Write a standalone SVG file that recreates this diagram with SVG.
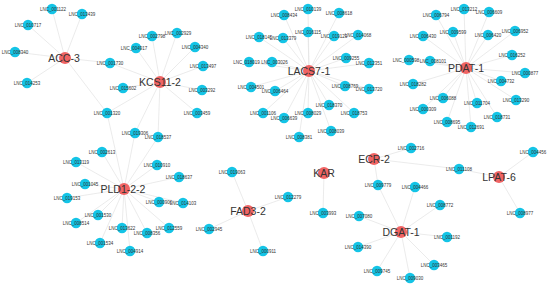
<svg xmlns="http://www.w3.org/2000/svg" width="550" height="288" viewBox="0 0 550 288">
<style>
.e line{stroke:#e2e2e2;stroke-width:0.7}
.l circle{fill:#14c4e6}
.h circle{fill:#f06464}
text{font-family:"Liberation Sans",Arial,sans-serif;text-anchor:middle;fill:#333}
.l text{font-size:4.5px}
.h text{font-size:10.5px}
</style>
<rect width="550" height="288" fill="#fff"/>
<g id="connectors" class="e">
<line x1="65" y1="58" x2="52" y2="9"/><line x1="65" y1="58" x2="82" y2="14"/><line x1="65" y1="58" x2="28" y2="25"/><line x1="65" y1="58" x2="15" y2="52"/><line x1="65" y1="58" x2="110" y2="63"/><line x1="65" y1="58" x2="27" y2="83"/><line x1="65" y1="58" x2="107" y2="113"/>
<line x1="160" y1="82" x2="152" y2="36"/><line x1="160" y1="82" x2="177" y2="33"/><line x1="160" y1="82" x2="136" y2="48"/><line x1="160" y1="82" x2="195" y2="47"/><line x1="160" y1="82" x2="203" y2="66"/><line x1="160" y1="82" x2="202" y2="90"/><line x1="160" y1="82" x2="110" y2="63"/><line x1="160" y1="82" x2="123" y2="88"/><line x1="160" y1="82" x2="197" y2="113"/><line x1="160" y1="82" x2="135" y2="133"/><line x1="160" y1="82" x2="158" y2="137"/><line x1="160" y1="82" x2="107" y2="113"/>
<line x1="124" y1="189" x2="107" y2="113"/><line x1="124" y1="189" x2="135" y2="133"/><line x1="124" y1="189" x2="102" y2="152"/><line x1="124" y1="189" x2="76" y2="162"/><line x1="124" y1="189" x2="85" y2="184"/><line x1="124" y1="189" x2="67" y2="198"/><line x1="124" y1="189" x2="98" y2="215"/><line x1="124" y1="189" x2="76" y2="223"/><line x1="124" y1="189" x2="122" y2="228"/><line x1="124" y1="189" x2="100" y2="243"/><line x1="124" y1="189" x2="130" y2="251"/><line x1="124" y1="189" x2="147" y2="233"/><line x1="124" y1="189" x2="169" y2="228"/><line x1="124" y1="189" x2="159" y2="202"/><line x1="124" y1="189" x2="183" y2="203"/><line x1="124" y1="189" x2="157" y2="165"/><line x1="124" y1="189" x2="179" y2="177"/><line x1="124" y1="189" x2="158" y2="137"/>
<line x1="309" y1="71" x2="308" y2="9"/><line x1="309" y1="71" x2="284" y2="15"/><line x1="309" y1="71" x2="339" y2="13"/><line x1="309" y1="71" x2="308" y2="32"/><line x1="309" y1="71" x2="283" y2="38"/><line x1="309" y1="71" x2="334" y2="36"/><line x1="309" y1="71" x2="358" y2="35"/><line x1="309" y1="71" x2="259" y2="37"/><line x1="309" y1="71" x2="249" y2="62"/><line x1="309" y1="71" x2="272" y2="62"/><line x1="309" y1="71" x2="346" y2="58"/><line x1="309" y1="71" x2="369" y2="63"/><line x1="309" y1="71" x2="251" y2="87"/><line x1="309" y1="71" x2="275" y2="91"/><line x1="309" y1="71" x2="345" y2="86"/><line x1="309" y1="71" x2="369" y2="89"/><line x1="309" y1="71" x2="329" y2="105"/><line x1="309" y1="71" x2="308" y2="113"/><line x1="309" y1="71" x2="354" y2="113"/><line x1="309" y1="71" x2="284" y2="118"/><line x1="309" y1="71" x2="331" y2="131"/><line x1="309" y1="71" x2="299" y2="137"/><line x1="309" y1="71" x2="263" y2="113"/>
<line x1="466" y1="68" x2="464" y2="9"/><line x1="466" y1="68" x2="436" y2="15"/><line x1="466" y1="68" x2="489" y2="12"/><line x1="466" y1="68" x2="423" y2="36"/><line x1="466" y1="68" x2="453" y2="32"/><line x1="466" y1="68" x2="488" y2="35"/><line x1="466" y1="68" x2="515" y2="31"/><line x1="466" y1="68" x2="512" y2="55"/><line x1="466" y1="68" x2="430" y2="61"/><line x1="466" y1="68" x2="409" y2="60"/><line x1="466" y1="68" x2="525" y2="73"/><line x1="466" y1="68" x2="501" y2="81"/><line x1="466" y1="68" x2="413" y2="84"/><line x1="466" y1="68" x2="443" y2="98"/><line x1="466" y1="68" x2="477" y2="103"/><line x1="466" y1="68" x2="516" y2="100"/><line x1="466" y1="68" x2="423" y2="109"/><line x1="466" y1="68" x2="447" y2="122"/><line x1="466" y1="68" x2="471" y2="127"/><line x1="466" y1="68" x2="497" y2="117"/>
<line x1="374" y1="159" x2="411" y2="148"/><line x1="374" y1="159" x2="378" y2="185"/><line x1="374" y1="159" x2="459" y2="169"/>
<line x1="324" y1="173" x2="323" y2="213"/>
<line x1="248" y1="211" x2="232" y2="172"/><line x1="248" y1="211" x2="288" y2="197"/><line x1="248" y1="211" x2="209" y2="229"/><line x1="248" y1="211" x2="263" y2="251"/>
<line x1="401" y1="232" x2="415" y2="187"/><line x1="401" y1="232" x2="378" y2="185"/><line x1="401" y1="232" x2="359" y2="216"/><line x1="401" y1="232" x2="358" y2="247"/><line x1="401" y1="232" x2="377" y2="271"/><line x1="401" y1="232" x2="410" y2="278"/><line x1="401" y1="232" x2="434" y2="265"/><line x1="401" y1="232" x2="447" y2="237"/><line x1="401" y1="232" x2="440" y2="205"/>
<line x1="499" y1="177" x2="533" y2="152"/><line x1="499" y1="177" x2="459" y2="169"/><line x1="499" y1="177" x2="520" y2="213"/>
</g>
<g id="nodes">
<g id="LNC_001122" class="l"><circle cx="52" cy="9" r="5.2"/><text x="53" y="10.6">LNC_001122</text></g>
<g id="LNC_013439" class="l"><circle cx="82" cy="14" r="5.2"/><text x="82" y="15.6">LNC_013439</text></g>
<g id="LNC_010717" class="l"><circle cx="28" cy="25" r="5.2"/><text x="28" y="26.6">LNC_010717</text></g>
<g id="LNC_008340" class="l"><circle cx="15" cy="52" r="5.2"/><text x="15" y="53.6">LNC_008340</text></g>
<g id="LNC_001730" class="l"><circle cx="110" cy="63" r="5.2"/><text x="110" y="64.6">LNC_001730</text></g>
<g id="LNC_014253" class="l"><circle cx="27" cy="83" r="5.2"/><text x="27" y="84.6">LNC_014253</text></g>
<g id="LNC_001320" class="l"><circle cx="107" cy="113" r="5.2"/><text x="107" y="114.6">LNC_001320</text></g>
<g id="LNC_002798" class="l"><circle cx="152" cy="36" r="5.2"/><text x="152" y="37.6">LNC_002798</text></g>
<g id="LNC_002929" class="l"><circle cx="177" cy="33" r="5.2"/><text x="178" y="34.6">LNC_002929</text></g>
<g id="LNC_004917" class="l"><circle cx="136" cy="48" r="5.2"/><text x="134" y="49.6">LNC_004917</text></g>
<g id="LNC_004340" class="l"><circle cx="195" cy="47" r="5.2"/><text x="195" y="48.6">LNC_004340</text></g>
<g id="LNC_013497" class="l"><circle cx="203" cy="66" r="5.2"/><text x="203" y="67.6">LNC_013497</text></g>
<g id="LNC_003292" class="l"><circle cx="202" cy="90" r="5.2"/><text x="202" y="91.6">LNC_003292</text></g>
<g id="LNC_015602" class="l"><circle cx="123" cy="88" r="5.2"/><text x="123" y="89.6">LNC_015602</text></g>
<g id="LNC_003459" class="l"><circle cx="197" cy="113" r="5.2"/><text x="197" y="114.6">LNC_003459</text></g>
<g id="LNC_019306" class="l"><circle cx="135" cy="133" r="5.2"/><text x="135" y="134.6">LNC_019306</text></g>
<g id="LNC_018537" class="l"><circle cx="158" cy="137" r="5.2"/><text x="158" y="138.6">LNC_018537</text></g>
<g id="LNC_002613" class="l"><circle cx="102" cy="152" r="5.2"/><text x="102" y="153.6">LNC_002613</text></g>
<g id="LNC_013119" class="l"><circle cx="76" cy="162" r="5.2"/><text x="76" y="163.6">LNC_013119</text></g>
<g id="LNC_001045" class="l"><circle cx="85" cy="184" r="5.2"/><text x="85" y="185.6">LNC_001045</text></g>
<g id="LNC_019153" class="l"><circle cx="67" cy="198" r="5.2"/><text x="67" y="199.6">LNC_019153</text></g>
<g id="LNC_001530" class="l"><circle cx="98" cy="215" r="5.2"/><text x="98" y="216.6">LNC_001530</text></g>
<g id="LNC_008514" class="l"><circle cx="76" cy="223" r="5.2"/><text x="76" y="224.6">LNC_008514</text></g>
<g id="LNC_013622" class="l"><circle cx="122" cy="228" r="5.2"/><text x="122" y="229.6">LNC_013622</text></g>
<g id="LNC_001534" class="l"><circle cx="100" cy="243" r="5.2"/><text x="100" y="244.6">LNC_001534</text></g>
<g id="LNC_004914" class="l"><circle cx="130" cy="251" r="5.2"/><text x="130" y="252.6">LNC_004914</text></g>
<g id="LNC_008356" class="l"><circle cx="147" cy="233" r="5.2"/><text x="147" y="234.6">LNC_008356</text></g>
<g id="LNC_012559" class="l"><circle cx="169" cy="228" r="5.2"/><text x="169" y="229.6">LNC_012559</text></g>
<g id="LNC_000906" class="l"><circle cx="159" cy="202" r="5.2"/><text x="159" y="203.6">LNC_000906</text></g>
<g id="LNC_014103" class="l"><circle cx="183" cy="203" r="5.2"/><text x="183" y="204.6">LNC_014103</text></g>
<g id="LNC_010910" class="l"><circle cx="157" cy="165" r="5.2"/><text x="157" y="166.6">LNC_010910</text></g>
<g id="LNC_018637" class="l"><circle cx="179" cy="177" r="5.2"/><text x="179" y="178.6">LNC_018637</text></g>
<g id="LNC_010139" class="l"><circle cx="308" cy="9" r="5.2"/><text x="308" y="10.6">LNC_010139</text></g>
<g id="LNC_008434" class="l"><circle cx="284" cy="15" r="5.2"/><text x="284" y="16.6">LNC_008434</text></g>
<g id="LNC_008618" class="l"><circle cx="339" cy="13" r="5.2"/><text x="339" y="14.6">LNC_008618</text></g>
<g id="LNC_016115" class="l"><circle cx="308" cy="32" r="5.2"/><text x="308" y="33.6">LNC_016115</text></g>
<g id="LNC_013379" class="l"><circle cx="283" cy="38" r="5.2"/><text x="283" y="39.6">LNC_013379</text></g>
<g id="LNC_019123" class="l"><circle cx="334" cy="36" r="5.2"/><text x="334" y="37.6">LNC_019123</text></g>
<g id="LNC_014068" class="l"><circle cx="358" cy="35" r="5.2"/><text x="358" y="36.6">LNC_014068</text></g>
<g id="LNC_018145" class="l"><circle cx="259" cy="37" r="5.2"/><text x="259" y="38.6">LNC_018145</text></g>
<g id="LNC_018019" class="l"><circle cx="249" cy="62" r="5.2"/><text x="246.5" y="63.6">LNC_018019</text></g>
<g id="LNC_003026" class="l"><circle cx="272" cy="62" r="5.2"/><text x="274.5" y="63.6">LNC_003026</text></g>
<g id="LNC_009255" class="l"><circle cx="346" cy="58" r="5.2"/><text x="346" y="59.6">LNC_009255</text></g>
<g id="LNC_012351" class="l"><circle cx="369" cy="63" r="5.2"/><text x="369" y="64.6">LNC_012351</text></g>
<g id="LNC_004501" class="l"><circle cx="251" cy="87" r="5.2"/><text x="251" y="88.6">LNC_004501</text></g>
<g id="LNC_006464" class="l"><circle cx="275" cy="91" r="5.2"/><text x="275" y="92.6">LNC_006464</text></g>
<g id="LNC_008769" class="l"><circle cx="345" cy="86" r="5.2"/><text x="345" y="87.6">LNC_008769</text></g>
<g id="LNC_013720" class="l"><circle cx="369" cy="89" r="5.2"/><text x="369" y="90.6">LNC_013720</text></g>
<g id="LNC_018370" class="l"><circle cx="329" cy="105" r="5.2"/><text x="329" y="106.6">LNC_018370</text></g>
<g id="LNC_008029" class="l"><circle cx="308" cy="113" r="5.2"/><text x="308" y="114.6">LNC_008029</text></g>
<g id="LNC_018753" class="l"><circle cx="354" cy="113" r="5.2"/><text x="354" y="114.6">LNC_018753</text></g>
<g id="LNC_006639" class="l"><circle cx="284" cy="118" r="5.2"/><text x="284" y="119.6">LNC_006639</text></g>
<g id="LNC_008039" class="l"><circle cx="331" cy="131" r="5.2"/><text x="331" y="132.6">LNC_008039</text></g>
<g id="LNC_008381" class="l"><circle cx="299" cy="137" r="5.2"/><text x="299" y="138.6">LNC_008381</text></g>
<g id="LNC_001106" class="l"><circle cx="263" cy="113" r="5.2"/><text x="263" y="114.6">LNC_001106</text></g>
<g id="LNC_013212" class="l"><circle cx="464" cy="9" r="5.2"/><text x="464" y="10.6">LNC_013212</text></g>
<g id="LNC_006794" class="l"><circle cx="436" cy="15" r="5.2"/><text x="436" y="16.6">LNC_006794</text></g>
<g id="LNC_006609" class="l"><circle cx="489" cy="12" r="5.2"/><text x="489" y="13.6">LNC_006609</text></g>
<g id="LNC_006430" class="l"><circle cx="423" cy="36" r="5.2"/><text x="423" y="37.6">LNC_006430</text></g>
<g id="LNC_009599" class="l"><circle cx="453" cy="32" r="5.2"/><text x="453" y="33.6">LNC_009599</text></g>
<g id="LNC_006420" class="l"><circle cx="488" cy="35" r="5.2"/><text x="488" y="36.6">LNC_006420</text></g>
<g id="LNC_006952" class="l"><circle cx="515" cy="31" r="5.2"/><text x="515" y="32.6">LNC_006952</text></g>
<g id="LNC_016252" class="l"><circle cx="512" cy="55" r="5.2"/><text x="512" y="56.6">LNC_016252</text></g>
<g id="LNC_008101" class="l"><circle cx="430" cy="61" r="5.2"/><text x="433" y="62.6">LNC_008101</text></g>
<g id="LNC_000598" class="l"><circle cx="409" cy="60" r="5.2"/><text x="406" y="61.6">LNC_000598</text></g>
<g id="LNC_000877" class="l"><circle cx="525" cy="73" r="5.2"/><text x="525" y="74.6">LNC_000877</text></g>
<g id="LNC_004732" class="l"><circle cx="501" cy="81" r="5.2"/><text x="501" y="82.6">LNC_004732</text></g>
<g id="LNC_018282" class="l"><circle cx="413" cy="84" r="5.2"/><text x="413" y="85.6">LNC_018282</text></g>
<g id="LNC_006088" class="l"><circle cx="443" cy="98" r="5.2"/><text x="443" y="99.6">LNC_006088</text></g>
<g id="LNC_011704" class="l"><circle cx="477" cy="103" r="5.2"/><text x="477" y="104.6">LNC_011704</text></g>
<g id="LNC_013290" class="l"><circle cx="516" cy="100" r="5.2"/><text x="516" y="101.6">LNC_013290</text></g>
<g id="LNC_000309" class="l"><circle cx="423" cy="109" r="5.2"/><text x="423" y="110.6">LNC_000309</text></g>
<g id="LNC_008695" class="l"><circle cx="447" cy="122" r="5.2"/><text x="447" y="123.6">LNC_008695</text></g>
<g id="LNC_012691" class="l"><circle cx="471" cy="127" r="5.2"/><text x="471" y="128.6">LNC_012691</text></g>
<g id="LNC_018731" class="l"><circle cx="497" cy="117" r="5.2"/><text x="497" y="118.6">LNC_018731</text></g>
<g id="LNC_002716" class="l"><circle cx="411" cy="148" r="5.2"/><text x="411" y="149.6">LNC_002716</text></g>
<g id="LNC_009779" class="l"><circle cx="378" cy="185" r="5.2"/><text x="378" y="186.6">LNC_009779</text></g>
<g id="LNC_011108" class="l"><circle cx="459" cy="169" r="5.2"/><text x="459" y="170.6">LNC_011108</text></g>
<g id="LNC_003993" class="l"><circle cx="323" cy="213" r="5.2"/><text x="323" y="214.6">LNC_003993</text></g>
<g id="LNC_019063" class="l"><circle cx="232" cy="172" r="5.2"/><text x="232" y="173.6">LNC_019063</text></g>
<g id="LNC_012279" class="l"><circle cx="288" cy="197" r="5.2"/><text x="288" y="198.6">LNC_012279</text></g>
<g id="LNC_002945" class="l"><circle cx="209" cy="229" r="5.2"/><text x="209" y="230.6">LNC_002945</text></g>
<g id="LNC_000911" class="l"><circle cx="263" cy="251" r="5.2"/><text x="263" y="252.6">LNC_000911</text></g>
<g id="LNC_004466" class="l"><circle cx="415" cy="187" r="5.2"/><text x="415" y="188.6">LNC_004466</text></g>
<g id="LNC_007080" class="l"><circle cx="359" cy="216" r="5.2"/><text x="359" y="217.6">LNC_007080</text></g>
<g id="LNC_014390" class="l"><circle cx="358" cy="247" r="5.2"/><text x="358" y="248.6">LNC_014390</text></g>
<g id="LNC_009745" class="l"><circle cx="377" cy="271" r="5.2"/><text x="377" y="272.6">LNC_009745</text></g>
<g id="LNC_009030" class="l"><circle cx="410" cy="278" r="5.2"/><text x="410" y="279.6">LNC_009030</text></g>
<g id="LNC_003465" class="l"><circle cx="434" cy="265" r="5.2"/><text x="434" y="266.6">LNC_003465</text></g>
<g id="LNC_001192" class="l"><circle cx="447" cy="237" r="5.2"/><text x="447" y="238.6">LNC_001192</text></g>
<g id="LNC_008772" class="l"><circle cx="440" cy="205" r="5.2"/><text x="440" y="206.6">LNC_008772</text></g>
<g id="LNC_004456" class="l"><circle cx="533" cy="152" r="5.2"/><text x="533" y="153.6">LNC_004456</text></g>
<g id="LNC_008977" class="l"><circle cx="520" cy="213" r="5.2"/><text x="520" y="214.6">LNC_008977</text></g>
<g id="ACC-3" class="h"><circle cx="65" cy="58" r="6"/><text x="64" y="61.8">ACC-3</text></g>
<g id="KCS11-2" class="h"><circle cx="160" cy="82" r="6"/><text x="160" y="85.8">KCS11-2</text></g>
<g id="PLD1-2-2" class="h"><circle cx="124" cy="189" r="6"/><text x="123" y="192.8">PLD1-2-2</text></g>
<g id="LACS7-1" class="h"><circle cx="309" cy="71" r="6"/><text x="309" y="74.8">LACS7-1</text></g>
<g id="PDAT-1" class="h"><circle cx="466" cy="68" r="6"/><text x="466" y="71.8">PDAT-1</text></g>
<g id="ECR-2" class="h"><circle cx="374" cy="159" r="6"/><text x="374" y="162.8">ECR-2</text></g>
<g id="KAR" class="h"><circle cx="324" cy="173" r="6"/><text x="324" y="176.8">KAR</text></g>
<g id="FAD3-2" class="h"><circle cx="248" cy="211" r="6"/><text x="248" y="214.8">FAD3-2</text></g>
<g id="DGAT-1" class="h"><circle cx="401" cy="232" r="6"/><text x="401" y="235.8">DGAT-1</text></g>
<g id="LPAT-6" class="h"><circle cx="499" cy="177" r="6"/><text x="499" y="180.8">LPAT-6</text></g>
</g>
</svg>
